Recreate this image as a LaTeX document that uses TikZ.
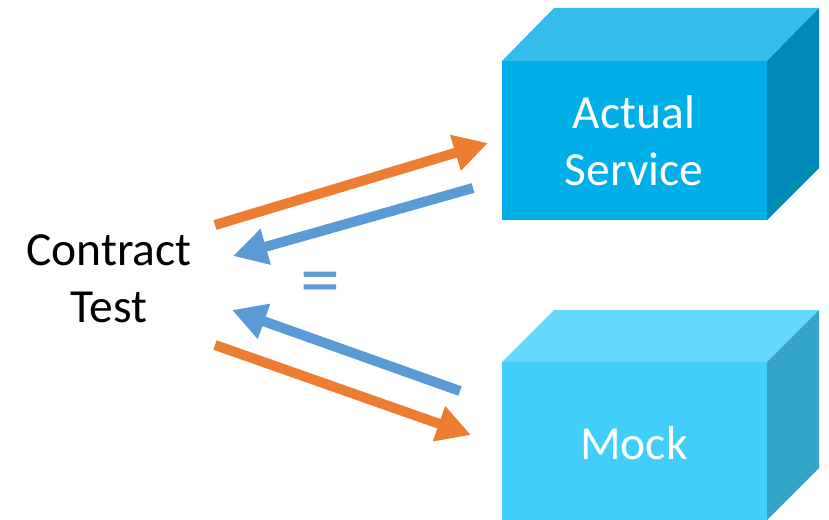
\documentclass[tikz,border=0pt]{standalone}
\usepackage{fontspec}
\setmainfont{Carlito}
\usetikzlibrary{arrows.meta}
\definecolor{orangeA}{HTML}{ED7D31}
\definecolor{blueA}{HTML}{5B9BD5}
\definecolor{actFront}{HTML}{00AEE8}
\definecolor{actTop}{HTML}{33BCEC}
\definecolor{actSide}{HTML}{008AB9}
\definecolor{mockFront}{HTML}{41CEFB}
\definecolor{mockTop}{HTML}{66D8FB}
\definecolor{mockSide}{HTML}{34A5C9}
\begin{document}
\begin{tikzpicture}[x=1pt,y=-1pt,
  bigtext/.style={font=\fontsize{47.5}{56}\selectfont, align=center, inner sep=0pt},
  fat/.style={line width=10pt, -{Triangle[width=35pt,length=34pt]}},
]
\useasboundingbox (0,0) rectangle (829,519);
\clip (0,0) rectangle (829,519);
% Actual Service box
\fill[actTop] (502,61) -- (554,8) -- (819,8) -- (767,61) -- cycle;
\fill[actSide] (767,61) -- (819,8) -- (819,168) -- (767,220) -- cycle;
\fill[actFront] (502,61) rectangle (767,220);
\node[bigtext, text=white, anchor=base] (actual) at (634,128) {Actual};
\node[bigtext, text=white, anchor=base] (service) at (634,185) {Service};
% Mock box
\fill[mockTop] (502,362) -- (554,310) -- (819,310) -- (767,362) -- cycle;
\fill[mockSide] (767,362) -- (819,310) -- (819,468) -- (767,520) -- cycle;
\fill[mockFront] (502,362) rectangle (767,530);
\node[bigtext, text=white, anchor=base] (mock) at (634,459) {Mock};
% Contract Test
\node[bigtext, anchor=base] (contract) at (109,265) {Contract};
\node[bigtext, anchor=base] (test) at (109,322) {Test};
% equals
\node[font=\fontsize{80}{88}\selectfont, text=blueA, inner sep=0pt] (eq) at (320,289) {=};
% arrow endpoints
\coordinate (o1s) at (215,225);
\coordinate (o1e) at (488,143);
\coordinate (b1s) at (473,188);
\coordinate (b1e) at (233,256);
\coordinate (b2s) at (460,391);
\coordinate (b2e) at (232,310);
\coordinate (o2s) at (215,345);
\coordinate (o2e) at (471,435);
\draw[fat, orangeA] (o1s) -- (o1e);
\draw[fat, blueA] (b1s) -- (b1e);
\draw[fat, blueA] (b2s) -- (b2e);
\draw[fat, orangeA] (o2s) -- (o2e);
\end{tikzpicture}
\end{document}
